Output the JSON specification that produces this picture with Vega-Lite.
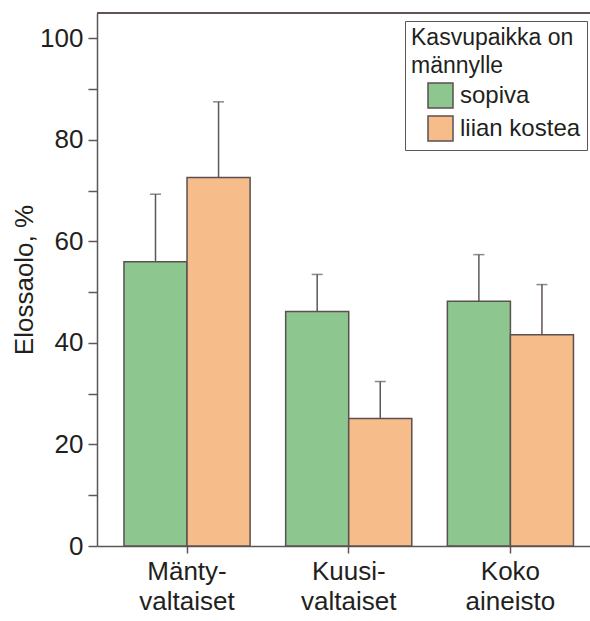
{
  "$schema": "https://vega.github.io/schema/vega-lite/v6.json",
  "autosize": {"type": "none"},
  "padding": {"left": 97, "top": 13, "right": 0, "bottom": 75},
  "width": 493,
  "height": 533,
  "background": "white",
  "config": {
    "font": "Liberation Sans",
    "view": {"stroke": null},
    "axis": {
      "domainColor": "#5e5555",
      "domainWidth": 1.5,
      "tickColor": "#5e5555",
      "tickWidth": 1.5,
      "labelColor": "#231f20",
      "titleColor": "#231f20",
      "labelFont": "Liberation Sans",
      "titleFont": "Liberation Sans",
      "grid": false
    }
  },
  "data": {
    "values": [
      {"ryhma": "Mäntyvaltaiset", "kasvupaikka": "sopiva", "elossa": 56.0, "ylaraja": 69.3},
      {"ryhma": "Mäntyvaltaiset", "kasvupaikka": "liian kostea", "elossa": 72.6, "ylaraja": 87.5},
      {"ryhma": "Kuusivaltaiset", "kasvupaikka": "sopiva", "elossa": 46.2, "ylaraja": 53.5},
      {"ryhma": "Kuusivaltaiset", "kasvupaikka": "liian kostea", "elossa": 25.1, "ylaraja": 32.4},
      {"ryhma": "Koko aineisto", "kasvupaikka": "sopiva", "elossa": 48.2, "ylaraja": 57.4},
      {"ryhma": "Koko aineisto", "kasvupaikka": "liian kostea", "elossa": 41.6, "ylaraja": 51.5}
    ]
  },
  "layer": [
    {
      "mark": {"type": "rule", "color": "#5e5555", "strokeWidth": 1.5},
      "encoding": {
        "x": {"field": "ryhma", "type": "nominal", "sort": ["Mäntyvaltaiset", "Kuusivaltaiset", "Koko aineisto"]},
        "xOffset": {"field": "kasvupaikka", "type": "nominal", "sort": ["sopiva", "liian kostea"]},
        "y": {"field": "elossa", "type": "quantitative"},
        "y2": {"field": "ylaraja"}
      }
    },
    {
      "mark": {"type": "tick", "color": "#5e5555", "size": 11, "thickness": 1.5},
      "encoding": {
        "x": {"field": "ryhma", "type": "nominal", "sort": ["Mäntyvaltaiset", "Kuusivaltaiset", "Koko aineisto"]},
        "xOffset": {"field": "kasvupaikka", "type": "nominal", "sort": ["sopiva", "liian kostea"]},
        "y": {"field": "ylaraja", "type": "quantitative"}
      }
    },
    {
      "mark": {"type": "bar", "stroke": "#5a5050", "strokeWidth": 1.5},
      "encoding": {
        "x": {
          "field": "ryhma",
          "type": "nominal",
          "sort": ["Mäntyvaltaiset", "Kuusivaltaiset", "Koko aineisto"],
          "scale": {"paddingInner": 0.22, "paddingOuter": 0.1345, "align": 0.62},
          "axis": {
            "title": null,
            "labelAngle": 0,
            "labelAlign": "center",
            "labelBaseline": "top",
            "labelFontSize": 26,
            "labelLineHeight": 30,
            "labelPadding": 5,
            "tickSize": 7,
            "labelExpr": "datum.value == 'Mäntyvaltaiset' ? ['Mänty-', 'valtaiset'] : datum.value == 'Kuusivaltaiset' ? ['Kuusi-', 'valtaiset'] : ['Koko', 'aineisto']"
          }
        },
        "xOffset": {
          "field": "kasvupaikka",
          "type": "nominal",
          "sort": ["sopiva", "liian kostea"],
          "scale": {"paddingInner": 0, "paddingOuter": 0}
        },
        "y": {
          "field": "elossa",
          "type": "quantitative",
          "scale": {"domain": [0, 105], "nice": false},
          "axis": {
            "title": "Elossaolo, %",
            "titleFontSize": 26,
            "titleFontWeight": "normal",
            "titlePadding": 2,
            "labelFontSize": 26,
            "labelPadding": 5,
            "tickSize": 9,
            "values": [0, 10, 20, 30, 40, 50, 60, 70, 80, 90, 100],
            "labelExpr": "datum.value % 20 === 0 ? datum.label : ''"
          }
        },
        "fill": {
          "field": "kasvupaikka",
          "type": "nominal",
          "sort": ["sopiva", "liian kostea"],
          "scale": {"domain": ["sopiva", "liian kostea"], "range": ["#8dc68f", "#f6bd8a"]},
          "legend": {
            "title": ["Kasvupaikka on", "männylle"],
            "orient": "none",
            "legendX": 308,
            "legendY": 8,
            "padding": 6,
            "fillColor": "white",
            "strokeColor": "#5e5555",
            "titleFontSize": 23,
            "titleFontWeight": "normal",
            "titleColor": "#231f20",
            "titleLineHeight": 28,
            "titlePadding": 4,
            "labelFontSize": 24,
            "labelColor": "#231f20",
            "labelOffset": 6,
            "symbolType": "square",
            "symbolSize": 625,
            "symbolOffset": 16,
            "symbolStrokeColor": "#5a5050",
            "symbolStrokeWidth": 1.5,
            "rowPadding": 2
          }
        }
      }
    },
    {
      "mark": {"type": "rule", "color": "#5e5555", "strokeWidth": 1.5},
      "encoding": {
        "y": {"datum": 105}
      }
    }
  ]
}
